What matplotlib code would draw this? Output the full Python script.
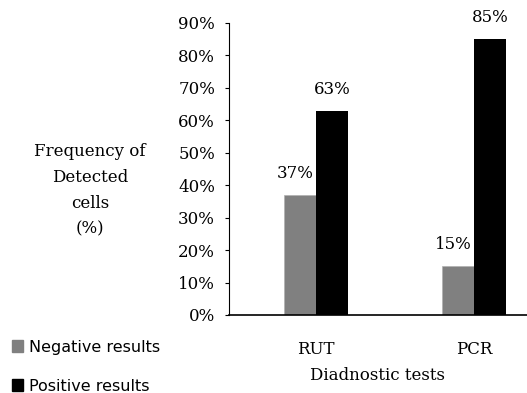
import matplotlib.pyplot as plt
from matplotlib.patches import Patch

tests = ['RUT', 'PCR']
negative = [37, 15]
positive = [63, 85]
yticks = [0, 10, 20, 30, 40, 50, 60, 70, 80, 90]

serif = 'DejaVu Serif'
fs = 12
fig = plt.figure(figsize=(5.27, 3.93), dpi=100)
ax = fig.add_axes([0.4345, 0.1985, 0.5655, 0.743])

x = list(range(len(tests)))
w = 0.2025
ax.bar([i - w / 2 for i in x], negative, w, color='#808080', edgecolor='#b0b0b0', linewidth=0.5)
ax.bar([i + w / 2 for i in x], positive, w, color='black')

for i in x:
    ax.text(i - w / 2 - 0.03, negative[i] + 4, f'{negative[i]}%', ha='center', va='bottom',
            fontsize=fs, family=serif)
    ax.text(i + w / 2, positive[i] + 4, f'{positive[i]}%', ha='center', va='bottom',
            fontsize=fs, family=serif)

ax.set_xlim(-0.55, 1.335)
ax.set_ylim(0, 90)
ax.set_yticks(yticks)
ax.set_yticklabels([f'{v}%' for v in yticks], family=serif, fontsize=fs)
ax.set_xticks(x)
ax.set_xticklabels(tests, family=serif, fontsize=fs)
ax.tick_params(axis='x', length=0, pad=19)
ax.tick_params(axis='y', length=3, width=0.8, pad=7)
for s in ['top', 'right']:
    ax.spines[s].set_visible(False)
ax.spines['bottom'].set_linewidth(1.2)
ax.spines['left'].set_linewidth(0.8)

ax.set_xlabel('Diadnostic tests', family=serif, fontsize=fs, labelpad=6)
fig.text(0.171, 0.516, 'Frequency of\nDetected\ncells\n(%)', ha='center', va='center',
         family=serif, fontsize=fs, linespacing=1.7)

handles = [Patch(color='#808080'), Patch(color='black')]
fig.legend(handles, ['Negative results', 'Positive results'], loc='lower left',
           bbox_to_anchor=(-0.005, -0.038), frameon=False, handlelength=0.7, handleheight=0.7,
           handletextpad=0.35, labelspacing=1.5, prop={'family': 'DejaVu Sans', 'size': 11.5})

fig.savefig('out.png', dpi=100)
